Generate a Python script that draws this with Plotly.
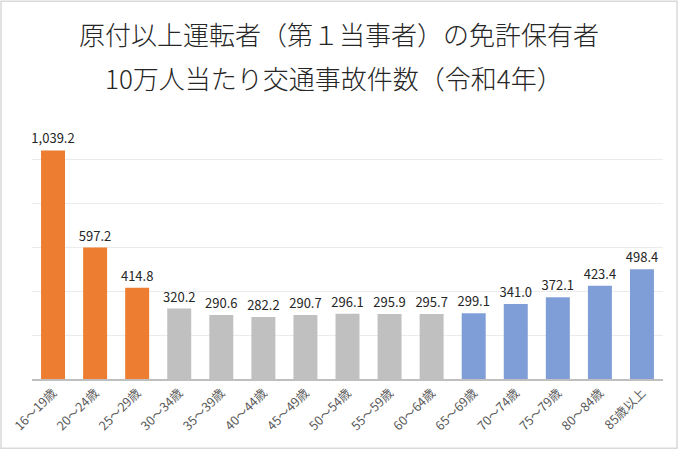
import plotly.graph_objects as go

# age groups and accidents per 100k licence holders (R4)
ages = ["16～19歳", "20～24歳", "25～29歳", "30～34歳", "35～39歳", "40～44歳",
        "45～49歳", "50～54歳", "55～59歳", "60～64歳", "65～69歳", "70～74歳",
        "75～79歳", "80～84歳", "85歳以上"]
rates = [1039.2, 597.2, 414.8, 320.2, 290.6, 282.2, 290.7, 296.1, 295.9, 295.7,
         299.1, 341.0, 372.1, 423.4, 498.4]
groups = ["young"] * 3 + ["middle"] * 7 + ["senior"] * 5

group_colors = {"young": "#ED7D31", "middle": "#C0C0C0", "senior": "#7F9ED7"}
bar_colors = [group_colors[g] for g in groups]

W, H = 679, 451
L, R, T, B = 32, 16, 115, 71.5
pw, ph = W - L - R, H - T - B

font = "Noto Sans CJK JP"

fig = go.Figure(go.Bar(
    x=ages, y=rates,
    marker=dict(color=bar_colors, line=dict(width=0)),
    texttemplate="%{y:,.1f}",
    textposition="outside",
    constraintext="none",
    textfont=dict(size=13, color="#262626", family=font),
    cliponaxis=False,
))

fig.update_layout(
    width=W, height=H,
    margin=dict(l=L, r=R, t=T, b=B, autoexpand=False),
    paper_bgcolor="white", plot_bgcolor="white",
    bargap=0.43,
    showlegend=False,
    font=dict(family=font),
    xaxis=dict(tickangle=-45, tickfont=dict(size=12.5, color="#595959"),
               showline=True, linecolor="#BFBFBF", linewidth=1.5,
               ticks="", showgrid=False, automargin=False),
    yaxis=dict(range=[0, 1200], dtick=200, showticklabels=False,
               gridcolor="#EBEBEB", gridwidth=1, zeroline=False,
               automargin=False),
)

def px_x(v):
    return (v - L) / pw

def px_y(v):
    return (H - B - v) / ph

title_font = dict(size=26, color="#262626", family=font, weight=300)
fig.add_annotation(text="原付以上運転者（第１当事者）の免許保有者",
                   x=px_x(339), y=px_y(33), xref="paper", yref="paper",
                   showarrow=False, xanchor="center", yanchor="middle",
                   font=title_font)
fig.add_annotation(text="10万人当たり交通事故件数（令和4年）",
                   x=px_x(334), y=px_y(77), xref="paper", yref="paper",
                   showarrow=False, xanchor="center", yanchor="middle",
                   font=title_font)

# chart border
fig.add_shape(type="rect", xref="paper", yref="paper",
              x0=px_x(1), x1=px_x(677), y0=px_y(449), y1=px_y(1),
              line=dict(color="#D9D9D9", width=1.5))

fig.write_html("out.html", config={"displayModeBar": False},
               post_script="document.body.style.margin='0';")
